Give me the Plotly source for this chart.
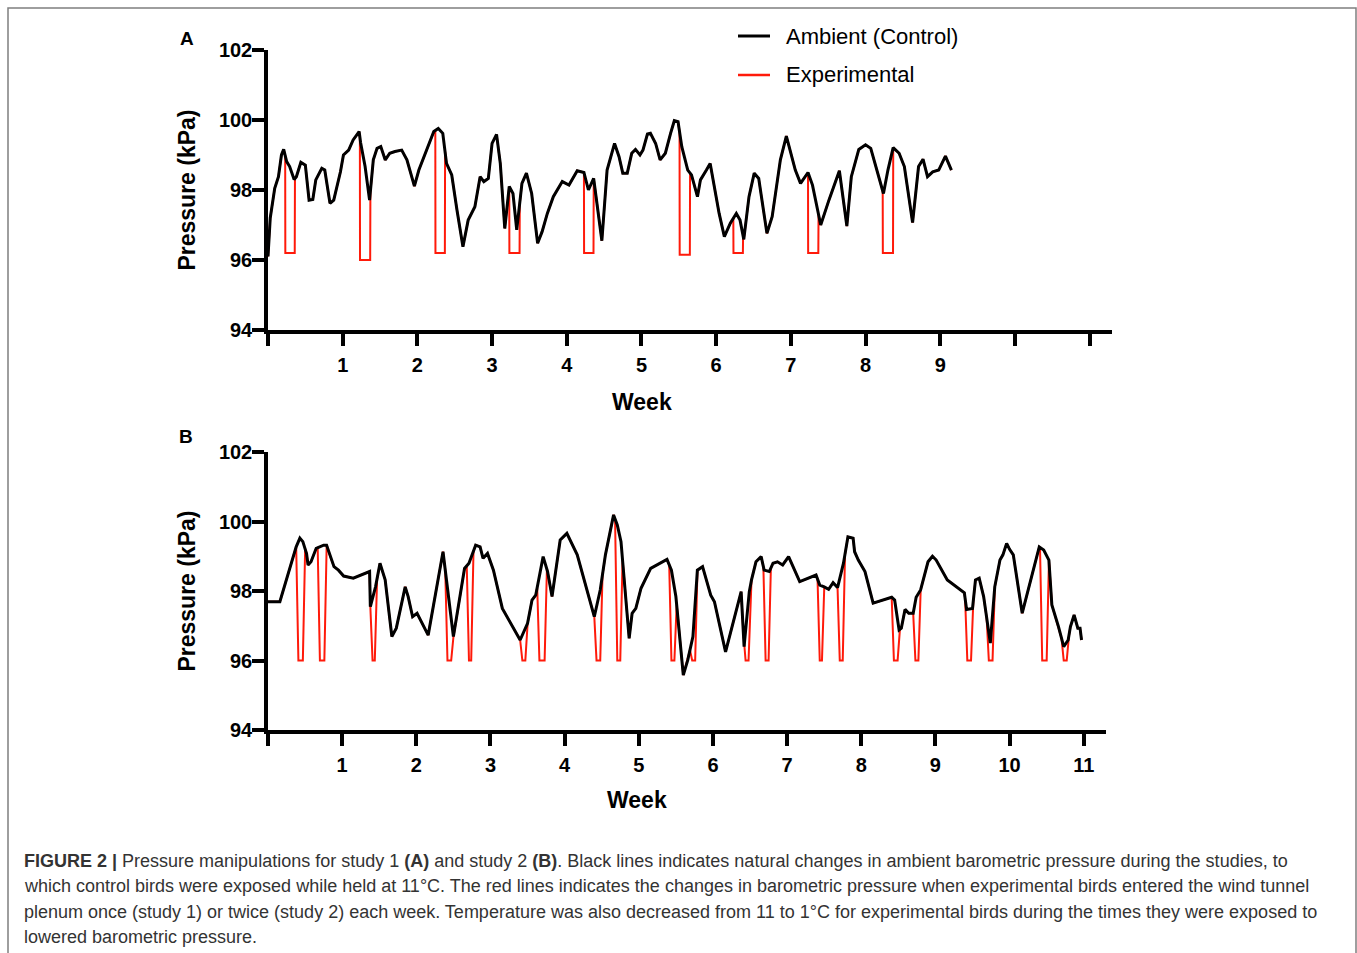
import numpy as np
import plotly.graph_objects as go

# Study 1 (panel A): ambient pressure, kPa
a_week = [0.00, 0.03, 0.09, 0.14, 0.18, 0.21, 0.25, 0.29, 0.35, 0.38, 0.44, 0.50, 0.55, 0.60,
          0.64, 0.72, 0.76, 0.83, 0.88, 0.97, 1.01, 1.08, 1.14, 1.22, 1.24, 1.30, 1.36, 1.41,
          1.46, 1.51, 1.57, 1.63, 1.70, 1.79, 1.86, 1.96, 2.02, 2.08, 2.15, 2.22, 2.28, 2.34,
          2.39, 2.46, 2.53, 2.61, 2.68, 2.77, 2.84, 2.89, 2.95, 3.00, 3.06, 3.11, 3.17, 3.23,
          3.28, 3.33, 3.40, 3.46, 3.53, 3.61, 3.67, 3.74, 3.82, 3.94, 4.03, 4.14, 4.23, 4.29,
          4.36, 4.47, 4.54, 4.64, 4.70, 4.75, 4.81, 4.87, 4.92, 4.98, 5.02, 5.08, 5.12, 5.19,
          5.25, 5.32, 5.39, 5.44, 5.49, 5.54, 5.62, 5.67, 5.75, 5.79, 5.87, 5.92, 6.04, 6.11,
          6.19, 6.27, 6.32, 6.37, 6.44, 6.51, 6.57, 6.68, 6.75, 6.86, 6.94, 7.00, 7.06, 7.13,
          7.23, 7.29, 7.40, 7.51, 7.65, 7.75, 7.81, 7.91, 8.00, 8.07, 8.16, 8.24, 8.30, 8.37,
          8.45, 8.52, 8.63, 8.71, 8.77, 8.83, 8.90, 8.98, 9.07, 9.15]
a_kpa = [96.10, 97.20, 98.05, 98.38, 99.00, 99.16, 98.81, 98.67, 98.30, 98.38, 98.79, 98.71, 97.71, 97.73,
         98.29, 98.62, 98.57, 97.62, 97.71, 98.52, 99.00, 99.14, 99.43, 99.67, 99.35, 98.67, 97.71, 98.86,
         99.19, 99.24, 98.86, 99.05, 99.10, 99.14, 98.86, 98.11, 98.57, 98.90, 99.24, 99.67, 99.76, 99.62,
         98.76, 98.43, 97.43, 96.38, 97.14, 97.52, 98.38, 98.24, 98.33, 99.33, 99.59, 98.76, 96.90, 98.10,
         97.90, 96.86, 98.19, 98.48, 97.90, 96.48, 96.81, 97.33, 97.81, 98.24, 98.14, 98.55, 98.50, 98.00,
         98.33, 96.55, 98.57, 99.33, 98.95, 98.48, 98.48, 99.05, 99.16, 99.00, 99.14, 99.60, 99.62, 99.33,
         98.86, 99.05, 99.62, 99.98, 99.95, 99.24, 98.57, 98.43, 97.81, 98.29, 98.57, 98.76, 97.33, 96.67,
         97.05, 97.33, 97.14, 96.59, 97.81, 98.48, 98.33, 96.76, 97.24, 98.86, 99.54, 99.05, 98.57, 98.19,
         98.50, 98.14, 97.00, 97.71, 98.55, 96.97, 98.38, 99.16, 99.29, 99.19, 98.48, 97.90, 98.57, 99.21,
         99.05, 98.67, 97.07, 98.67, 98.88, 98.38, 98.52, 98.57, 98.97, 98.57]
# Study 1 exposures: start week, end week, plenum pressure
a_start = [0.23, 1.23, 2.24, 3.23, 4.23, 5.51, 6.23, 7.23, 8.23]
a_end = [0.36, 1.37, 2.37, 3.37, 4.36, 5.65, 6.36, 7.37, 8.37]
a_low = [96.2, 96.0, 96.2, 96.2, 96.2, 96.15, 96.2, 96.2, 96.2]

# Study 2 (panel B)
b_week = [0.00, 0.16, 0.38, 0.43, 0.47, 0.52, 0.54, 0.58, 0.65, 0.70, 0.75, 0.79, 0.84, 0.89,
          0.95, 1.02, 1.15, 1.37, 1.38, 1.45, 1.51, 1.58, 1.67, 1.73, 1.85, 1.89, 1.95, 2.01,
          2.16, 2.36, 2.50, 2.56, 2.65, 2.71, 2.80, 2.86, 2.90, 2.96, 3.04, 3.16, 3.40, 3.50,
          3.56, 3.61, 3.71, 3.77, 3.83, 3.94, 4.03, 4.17, 4.40, 4.48, 4.55, 4.66, 4.71, 4.76,
          4.87, 4.91, 4.96, 5.03, 5.16, 5.38, 5.44, 5.50, 5.60, 5.66, 5.73, 5.79, 5.86, 5.97,
          6.02, 6.17, 6.38, 6.42, 6.49, 6.52, 6.58, 6.65, 6.69, 6.76, 6.81, 6.87, 6.94, 7.02,
          7.17, 7.39, 7.44, 7.50, 7.56, 7.62, 7.68, 7.76, 7.82, 7.89, 7.91, 7.96, 8.05, 8.16,
          8.41, 8.45, 8.51, 8.54, 8.59, 8.64, 8.70, 8.74, 8.80, 8.90, 8.96, 9.01, 9.16, 9.39,
          9.42, 9.50, 9.54, 9.59, 9.65, 9.74, 9.80, 9.87, 9.91, 9.96, 10.00, 10.05, 10.17, 10.40,
          10.46, 10.53, 10.57, 10.66, 10.73, 10.79, 10.82, 10.87, 10.92, 10.95, 10.97]
b_kpa = [97.69, 97.69, 99.27, 99.52, 99.42, 99.08, 98.75, 98.84, 99.23, 99.27, 99.32, 99.32, 98.99, 98.70,
         98.60, 98.43, 98.37, 98.56, 97.55, 98.12, 98.80, 98.32, 96.69, 96.93, 98.12, 97.84, 97.26, 97.36,
         96.73, 99.13, 96.69, 97.45, 98.65, 98.80, 99.32, 99.27, 98.94, 99.08, 98.60, 97.50, 96.59, 97.07,
         97.74, 97.88, 98.99, 98.56, 97.84, 99.47, 99.66, 99.04, 97.26, 98.03, 99.04, 100.19, 99.90, 99.42,
         96.64, 97.36, 97.50, 98.08, 98.65, 98.91, 98.60, 97.84, 95.58, 96.01, 96.69, 98.60, 98.70, 97.88,
         97.69, 96.25, 97.98, 96.40, 97.98, 98.32, 98.84, 98.99, 98.60, 98.56, 98.80, 98.84, 98.75, 98.99,
         98.27, 98.46, 98.17, 98.12, 98.05, 98.24, 98.10, 98.80, 99.56, 99.52, 99.13, 98.89, 98.56, 97.65,
         97.82, 97.74, 96.88, 96.93, 97.47, 97.36, 97.36, 97.82, 98.03, 98.84, 99.00, 98.89, 98.32, 97.95,
         97.47, 97.50, 98.32, 98.37, 97.84, 96.50, 98.12, 98.89, 99.04, 99.37, 99.20, 99.04, 97.36, 99.27,
         99.18, 98.89, 97.60, 96.97, 96.40, 96.59, 96.97, 97.31, 96.93, 96.93, 96.59]
b_start = [0.38, 0.67, 1.38, 2.39, 2.68, 3.40, 3.63, 4.40, 4.68, 5.41, 5.69,
           6.41, 6.68, 7.41, 7.68, 8.41, 8.70, 9.40, 9.69, 10.41, 10.70]
b_end = [0.50, 0.79, 1.47, 2.50, 2.77, 3.50, 3.76, 4.51, 4.78, 5.51, 5.79,
         6.51, 6.78, 7.50, 7.78, 8.52, 8.80, 9.51, 9.80, 10.53, 10.80]
b_low = [96.0] * len(b_start)

RED = "#ff1a0a"
FONT = "Liberation Sans, Arial, sans-serif"


def exposure_trace(week, kpa, starts, ends, lows, ramp):
    # experimental birds follow ambient, except inside plenum windows
    week = np.asarray(week)
    kpa = np.asarray(kpa)
    inside = np.zeros(len(week), dtype=bool)
    for s, e in zip(starts, ends):
        inside |= (week >= s) & (week <= e)
    pts = [(w, k) for w, k, i in zip(week, kpa, inside) if not i]
    for s, e, lo in zip(starts, ends, lows):
        pts += [(s, np.interp(s, week, kpa)), (s + ramp, lo), (e - ramp, lo), (e + 0.001, np.interp(e, week, kpa))]
    pts.sort(key=lambda p: p[0])
    return [p[0] for p in pts], [p[1] for p in pts]


fig = go.Figure()

ax, ay = exposure_trace(a_week, a_kpa, a_start, a_end, a_low, 0.002)
bx, by = exposure_trace(b_week, b_kpa, b_start, b_end, b_low, 0.03)

fig.add_trace(go.Scatter(x=ax, y=ay, mode="lines", line=dict(color=RED, width=2),
                         xaxis="x", yaxis="y"))
fig.add_trace(go.Scatter(x=a_week, y=a_kpa, mode="lines", line=dict(color="black", width=3),
                         xaxis="x", yaxis="y"))
fig.add_trace(go.Scatter(x=bx, y=by, mode="lines", line=dict(color=RED, width=2),
                         xaxis="x2", yaxis="y2"))
fig.add_trace(go.Scatter(x=b_week, y=b_kpa, mode="lines", line=dict(color="black", width=3),
                         xaxis="x2", yaxis="y2"))

W, H = 1357, 953


def px(x):
    return x / W


def py(y):
    return 1 - y / H


xcommon = dict(range=[0, 11.3], showgrid=False, zeroline=False, showline=True, linewidth=3.5,
               linecolor="black", ticks="outside", ticklen=12, tickwidth=3.5, tickcolor="black",
               tickvals=list(range(12)), tickfont=dict(family=FONT, size=20, color="black", weight="bold"),
               ticklabelstandoff=2, automargin=False)
ycommon = dict(range=[94, 102], showgrid=False, zeroline=False, showline=True, linewidth=3.5,
               linecolor="black", ticks="outside", ticklen=12, tickwidth=3.5, tickcolor="black",
               tickvals=[94, 96, 98, 100, 102], automargin=False, ticklabelstandoff=-4,
               tickfont=dict(family=FONT, size=20, color="black", weight="bold"))
title_font = dict(family=FONT, size=23, color="black", weight="bold")

fig.update_layout(
    width=W, height=H,
    margin=dict(l=0, r=0, t=0, b=0, pad=0, autoexpand=False),
    paper_bgcolor="white", plot_bgcolor="white",
    showlegend=False,
    xaxis=dict(xcommon, domain=[px(268), px(1112)], anchor="y",
               ticktext=[""] + [str(i) for i in range(1, 10)] + ["", ""]),
    yaxis=dict(ycommon, domain=[py(330), py(50)], anchor="x",
               title=dict(text="Pressure (kPa)", font=title_font, standoff=18)),
    xaxis2=dict(xcommon, domain=[px(268), px(1106)], anchor="y2",
                ticktext=[""] + [str(i) for i in range(1, 12)]),
    yaxis2=dict(ycommon, domain=[py(730), py(452)], anchor="x2",
                title=dict(text="Pressure (kPa)", font=title_font, standoff=18)),
)

# x-axis titles ("Week") sit under week 5, not under the axis centre
for xpos, ypos in [(642, 402), (637, 800)]:
    fig.add_annotation(text="Week", x=px(xpos), y=py(ypos), xref="paper", yref="paper",
                       xanchor="center", yanchor="middle", showarrow=False, font=title_font)

# legend drawn by hand (line sample + label)
legend_items = [("Ambient (Control)", "black", 3, 36), ("Experimental", RED, 2.5, 75)]
for label, color, width, ypos in legend_items:
    fig.add_shape(type="line", xref="paper", yref="paper", x0=px(738), x1=px(770),
                  y0=py(ypos), y1=py(ypos), line=dict(color=color, width=width))
    fig.add_annotation(text=label, x=px(784), y=py(ypos), xref="paper", yref="paper",
                       xanchor="left", yanchor="middle", showarrow=False,
                       font=dict(family=FONT, size=22, color="black"))

# panel letters
fig.add_annotation(text="<b>A</b>", x=px(187), y=py(39), xref="paper", yref="paper",
                   xanchor="center", yanchor="middle", showarrow=False,
                   font=dict(family=FONT, size=19, color="black"))
fig.add_annotation(text="<b>B</b>", x=px(186), y=py(436), xref="paper", yref="paper",
                   xanchor="center", yanchor="middle", showarrow=False,
                   font=dict(family=FONT, size=19, color="black"))

caption = [
    "<b>FIGURE 2 |</b> Pressure manipulations for study 1 <b>(A)</b> and study 2 <b>(B)</b>. Black lines indicates natural changes in ambient barometric pressure during the studies, to",
    "which control birds were exposed while held at 11°C. The red lines indicates the changes in barometric pressure when experimental birds entered the wind tunnel",
    "plenum once (study 1) or twice (study 2) each week. Temperature was also decreased from 11 to 1°C for experimental birds during the times they were exposed to",
    "lowered barometric pressure.",
]
for i, line in enumerate(caption):
    fig.add_annotation(text=line, x=px(22), y=py(861 + 25.3 * i), xref="paper", yref="paper",
                       xanchor="left", yanchor="middle", showarrow=False,
                       font=dict(family=FONT, size=18, color="#333333"))

# figure frame
fig.add_shape(type="rect", xref="paper", yref="paper", x0=px(8), y0=py(960), x1=px(1356), y1=py(8),
              line=dict(color="#7f7f7f", width=1.5))

# pin the graph div to the top-left corner of the page
fig.write_html("out.html", config={"displayModeBar": False}, post_script=(
    "document.body.style.margin='0';"
    "var d=document.getElementById('{plot_id}');"
    "d.style.position='absolute';d.style.left='0px';d.style.top='0px';"))
